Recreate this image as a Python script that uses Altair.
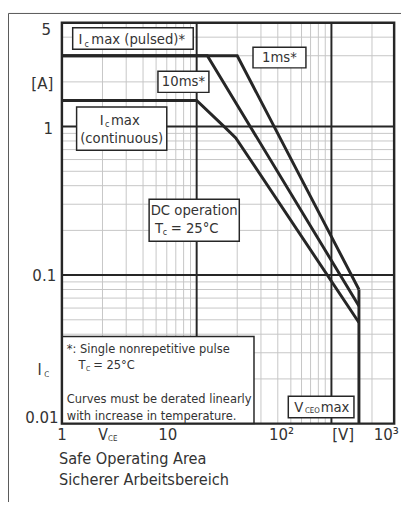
import math
import altair as alt
import pandas as pd

# ---------------- data ----------------
V_dc = [1, 10, 16, 19.5, 160]
I_dc = [1.5, 1.5, 1.0, 0.84, 0.048]
V_10ms = [1, 12, 160]
I_10ms = [3, 3, 0.062]
V_1ms = [1, 20, 160]
I_1ms = [3, 3, 0.08]
V_ceo = [160, 160]
I_ceo = [0.08, 0.01]

minor_x = [2, 3, 4, 5, 6, 7, 8, 9, 20, 30, 40, 50, 60, 70, 80, 90, 200]
major_x = [10, 100]
minor_y = [0.02, 0.03, 0.04, 0.05, 0.06, 0.07, 0.08, 0.09,
           0.2, 0.3, 0.4, 0.5, 0.6, 0.7, 0.8, 0.9, 2, 3, 4]
major_y = [0.1, 1]

y_tick_labels = ["5", "[A]", "1", "0.1", "0.01"]
x_tick_labels = ["1", "10", "10²", "[V]", "10³"]

# ---------------- layout ----------------
W, H = 339, 409
XMIN, XMAX = 1, 292
YMIN, YMAX = 0.01, 5
OX, OY = 63, 18          # page position of plot origin
LX = math.log10(XMAX) - math.log10(XMIN)
LY = math.log10(YMAX) - math.log10(YMIN)
FONT = "DejaVu Sans Condensed"
INK = "#262626"
TXT = "#333333"


def px2x(px):
    return 10 ** (math.log10(XMIN) + (px - OX) / W * LX)


def px2y(py):
    return 10 ** (math.log10(YMAX) - (py - OY) / H * LY)


xs = alt.Scale(type="log", domain=[XMIN, XMAX], nice=False)
ys = alt.Scale(type="log", domain=[YMIN, YMAX], nice=False)

# curves
rows = []
for name, vv, ii in [("DC", V_dc, I_dc), ("10ms", V_10ms, I_10ms),
                     ("1ms", V_1ms, I_1ms), ("Vceo", V_ceo, I_ceo)]:
    for k, (v, i) in enumerate(zip(vv, ii)):
        rows.append({"series": name, "V": v, "I": i, "k": k})
curves_df = pd.DataFrame(rows)

curves = alt.Chart(curves_df).mark_line(color=INK, strokeWidth=3, strokeJoin="miter").encode(
    x=alt.X("V:Q", scale=xs, axis=None),
    y=alt.Y("I:Q", scale=ys, axis=None),
    detail="series:N",
    order="k:Q",
)

grid_minor_x = alt.Chart(pd.DataFrame({"V": minor_x})).mark_rule(color="#c6c6c6", strokeWidth=1).encode(
    x=alt.X("V:Q", scale=xs, axis=None))
grid_minor_y = alt.Chart(pd.DataFrame({"I": minor_y})).mark_rule(color="#c6c6c6", strokeWidth=1).encode(
    y=alt.Y("I:Q", scale=ys, axis=None))
grid_major_x = alt.Chart(pd.DataFrame({"V": major_x})).mark_rule(color=INK, strokeWidth=2).encode(
    x=alt.X("V:Q", scale=xs, axis=None))
grid_major_y = alt.Chart(pd.DataFrame({"I": major_y})).mark_rule(color=INK, strokeWidth=2).encode(
    y=alt.Y("I:Q", scale=ys, axis=None))

# annotation boxes (page pixel extents -> data space)
boxes_px = [
    (74, 23, 197, 45),     # Ic max (pulsed)
    (258, 43, 312, 64),    # 1ms
    (161, 67.5, 213, 89),  # 10ms
    (78, 104, 170, 148),   # Ic max continuous
    (152, 198, 244, 241),  # DC operation
    (294, 399, 361, 421),  # Vceo max
    (63, 338, 259, 427),   # footnote
]
boxes_df = pd.DataFrame([{"x0": px2x(a), "y0": px2y(b), "x1": px2x(c), "y1": px2y(d)}
                         for a, b, c, d in boxes_px])
boxes = alt.Chart(boxes_df).mark_rect(fill="white", stroke=INK, strokeWidth=1.5).encode(
    x=alt.X("x0:Q", scale=xs, axis=None), x2="x1:Q",
    y=alt.Y("y0:Q", scale=ys, axis=None), y2="y1:Q")

# text pieces: (page x, page y, text, size)
left_txt = [
    (80, 35, "I", 15), (86, 39.5, "c", 9), (93, 35, "max (pulsed)*", 15),
    (101.5, 117, "I", 15), (107, 121.5, "c", 9), (113, 117, "max", 15),
    (158, 227, "T", 15), (166, 231.5, "c", 9), (174, 227, "= 25°C", 15),
    (300, 410, "V", 15), (311, 414.5, "CEO", 8), (327, 410, "max", 15),
    (68, 351, "*: Single nonrepetitive pulse", 13),
    (80, 367, "T", 13), (87.5, 371, "C", 7), (95, 367, "= 25°C", 13),
    (68, 402, "Curves must be derated linearly", 13),
    (68, 419, "with increase in temperature.", 13),
    (38, 372, "I", 16), (45, 377, "C", 8),
    (100, 439, "V", 16), (110, 443, "CE", 8),
    (60, 463, "Safe Operating Area", 16.5),
    (60, 485, "Sicherer Arbeitsbereich", 16.5),
]
center_txt = [
    (285, 53.5, "1ms*", 15), (187, 78, "10ms*", 15),
    (124, 136, "(continuous)", 15), (198, 209, "DC operation", 15),
]
ytick_pos = [(47, 25), (43, 81), (49, 126), (45, 276), (42.5, 421)]
xtick_pos = [(63, 439), (171, 439), (287, 439), (350, 439), (394, 439)]
for (px, py), t in zip(ytick_pos, y_tick_labels):
    center_txt.append((px, py, t, 17))
for (px, py), t in zip(xtick_pos, x_tick_labels):
    center_txt.append((px, py, t, 17))


def text_layer(items, align):
    df = pd.DataFrame([{"x": px2x(a), "y": px2y(b), "t": t, "fs": s} for a, b, t, s in items])
    return alt.Chart(df).mark_text(align=align, baseline="middle", font=FONT, color=TXT).encode(
        x=alt.X("x:Q", scale=xs, axis=None),
        y=alt.Y("y:Q", scale=ys, axis=None),
        text="t:N",
        size=alt.Size("fs:Q", scale=None, legend=None),
    )


border = alt.Chart().mark_rect(filled=False, stroke=INK, strokeWidth=2.5).encode(
    x=alt.value(0), x2=alt.value(W), y=alt.value(0), y2=alt.value(H))
frame_left = alt.Chart().mark_rule(color="#555555", strokeWidth=1).encode(
    x=alt.value(8.5 - OX), y=alt.value(8.5 - OY), y2=alt.value(H + 80))
frame_top = alt.Chart().mark_rule(color="#555555", strokeWidth=1).encode(
    x=alt.value(8.5 - OX), x2=alt.value(W + 7), y=alt.value(8.5 - OY))

chart = alt.layer(
    grid_minor_x, grid_minor_y, grid_major_x, grid_major_y,
    curves, boxes, border,
    text_layer(left_txt, "left"), text_layer(center_txt, "center"),
    frame_left, frame_top,
).properties(
    width=W, height=H,
    autosize=alt.AutoSizeParams(type="none"),
    padding={"left": 55, "top": 10, "right": 7, "bottom": 80},
).configure_view(stroke=None)

chart.save("out.html", embed_options={"renderer": "svg", "actions": False})
